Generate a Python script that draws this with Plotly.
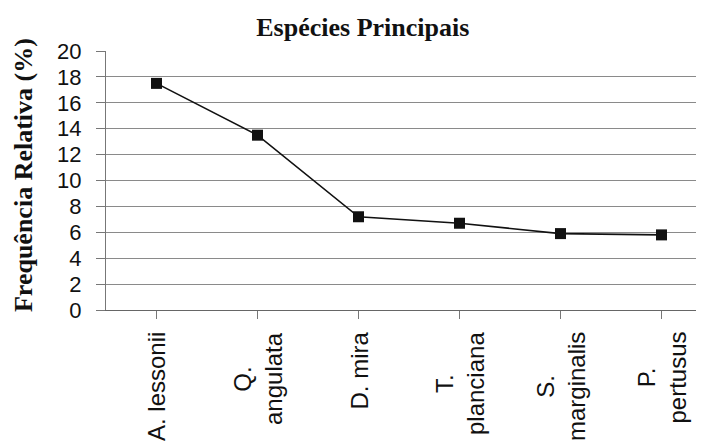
import plotly.graph_objects as go

categories = ["A. lessonii", "Q.<br>angulata", "D. mira", "T.<br>planciana", "S.<br>marginalis", "P.<br>pertusus"]
values = [17.5, 13.5, 7.2, 6.7, 5.9, 5.8]
y_ticks = [0, 2, 4, 6, 8, 10, 12, 14, 16, 18, 20]
title_text = "Espécies Principais"
y_title = "Frequência Relativa (%)"

x_idx = list(range(len(categories)))

fig = go.Figure()
fig.add_trace(go.Scatter(
    x=x_idx, y=values, mode="lines+markers",
    line=dict(color="#111111", width=1.6),
    marker=dict(symbol="square", size=11, color="#111111"),
    showlegend=False, hoverinfo="skip",
))

for i, lab in enumerate(categories):
    fig.add_annotation(
        x=i, y=0, xref="x", yref="paper", text=lab, showarrow=False,
        textangle=-90, xanchor="center", yanchor="top", yshift=-20, align="center",
        font=dict(family="Liberation Sans, Arial", size=24, color="#111111"),
    )

fig.add_annotation(
    x=-0.137, y=0.521, xref="paper", yref="paper", text="<b>" + y_title + "</b>",
    showarrow=False, textangle=-90, xanchor="center", yanchor="middle",
    font=dict(family="Liberation Serif, Times New Roman", size=26, color="#111111"),
)

fig.update_layout(
    width=704, height=447,
    margin=dict(l=98, r=0, t=43, b=145),
    paper_bgcolor="white", plot_bgcolor="white",
    title=dict(text="<b>" + title_text + "</b>", x=0.504, xref="container", xanchor="center",
               y=0.957, yref="container", yanchor="middle",
               font=dict(family="Liberation Serif, Times New Roman", size=26, color="#111111")),
    xaxis=dict(
        range=[-0.5, 5.5], tickvals=x_idx, ticktext=[""] * len(x_idx),
        tickson="boundaries", ticks="outside", ticklen=8, tickcolor="#777777",
        showline=True, linecolor="#666666", linewidth=1.2,
        showgrid=False, zeroline=False, fixedrange=True,
    ),
    yaxis=dict(
        range=[0, 20], tickvals=y_ticks, ticktext=[str(v) for v in y_ticks],
        ticks="outside", ticklen=9, tickcolor="#777777",
        showline=True, linecolor="#777777", linewidth=1,
        showgrid=True, gridcolor="#8a8a8a", gridwidth=1, zeroline=False,
        tickfont=dict(family="Liberation Sans, Arial", size=22, color="#111111"),
        ticklabelstandoff=10,
    ),
)

fig.write_html("out.html")
